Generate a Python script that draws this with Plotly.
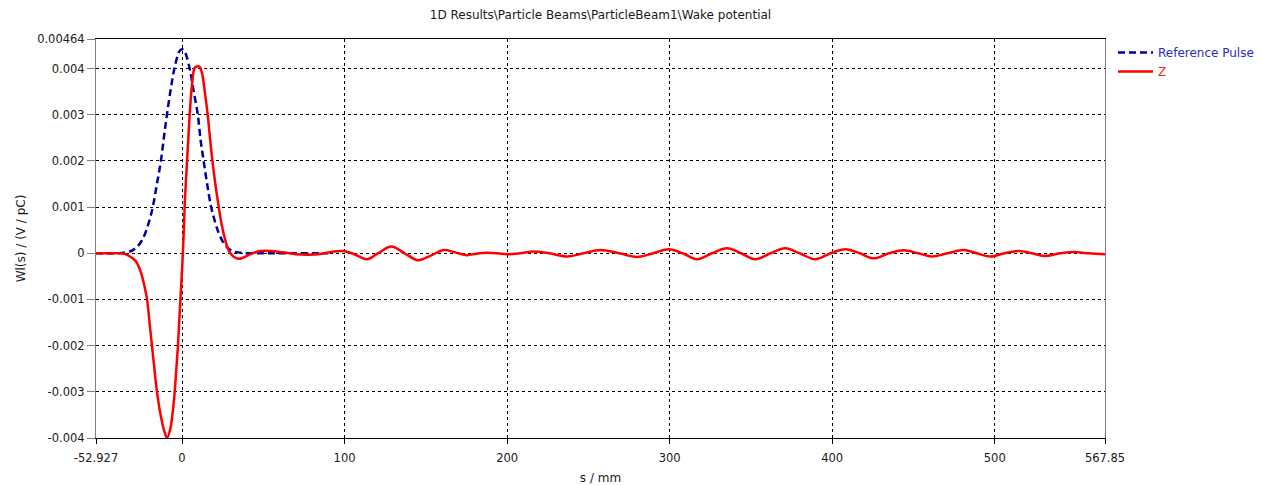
import plotly.graph_objects as go

# ---------------- data ----------------
pulse_s = [-52.927, -40, -35, -32, -30, -27.5, -25, -22.5, -20, -18, -15.5, -13, -11, -9.3, -7, -5, -3, -1.5,
           0, 1.5, 3, 5, 7, 9.7, 11.5, 13.3, 15.5, 17.9, 20, 22.5, 25, 27.5, 30, 33, 36, 40, 50, 60, 70, 80, 90]
pulse_w = [0, 0, 0.000017, 0.000042, 0.000075, 0.000143, 0.00026, 0.000445, 0.00072, 0.001, 0.00149, 0.002,
           0.00255, 0.003, 0.00354, 0.00395, 0.00424, 0.00438,
           0.00442, 0.00438, 0.00424, 0.00395, 0.00354, 0.003, 0.00243, 0.002, 0.00149, 0.001, 0.00072,
           0.000445, 0.00026, 0.00014, 0.00007, 0.00003, 0.00001, 0, 0, 0, 0, 0, 0]

z_s = [-52.927, -40, -36.5, -34.9, -32, -30, -28.7, -27, -25, -23, -21.5, -20, -18.5, -17, -15.4, -13.4,
       -11.3, -9.2, -7.2, -5.8, -4.5, -3.5, -2.5, -1.75, -1.0, -0.2, 0.5, 1.1, 1.6, 2.3, 3.1, 3.9, 4.7,
       6.0, 7.6, 8.8, 9.9, 11.0, 12.3, 14.0, 15.8, 17.2, 18.7, 20.5, 22.6, 24.5, 26.5, 28.2, 29.8, 32,
       34.8, 38, 42, 48.2, 55, 62, 70, 78, 86, 92, 99.4, 106, 113.8, 121, 128.8, 137, 145, 153, 161, 168,
       175.3, 181, 187.6, 194, 200, 208, 216.3, 226, 236.9, 247, 257.4, 269, 279.9, 290, 299.4, 308, 316.8,
       326, 335.3, 344, 352.7, 362, 371.2, 380, 389.6, 399, 408.1, 417, 425.5, 435, 444, 453, 461.4, 471,
       480.9, 489, 497.3, 506, 514.7, 523, 531.2, 540, 548.6, 558, 567.85]
z_w = [0, 0, -0.000005, -0.00002, -0.00007, -0.00012, -0.00016, -0.00026, -0.000445, -0.00073, -0.001,
       -0.0015, -0.002, -0.0025, -0.003, -0.00346, -0.0038, -0.004, -0.0038, -0.00346, -0.003, -0.0025,
       -0.002, -0.0015, -0.001, -0.0005, 0, 0.0005, 0.001, 0.0015, 0.002, 0.0025, 0.003,
       0.0036, 0.0040, 0.00404, 0.00405, 0.00403, 0.0039, 0.0035, 0.003, 0.0025, 0.002, 0.0015, 0.001,
       0.0006, 0.0003, 0.0001, 0, -0.00008,
       -0.00012, -0.00009, -0.00002, 0.00005, 0.00005, 0.00002, -0.00002, -0.00003, -0.00001, 0.00003,
       0.00005, -0.00002, -0.00013, 0.00001, 0.000145, 0.0, -0.00015, -0.00005, 0.00007, 0.00002,
       -0.00004, -0.00001, 0.00001, 0.0, -0.00002, 0.0, 0.00004, 0.0, -0.00007, 0.0, 0.00007, 0.0, -0.00008,
       0.0, 0.000086, 0.0, -0.00013, 0.0, 0.00011, 0.0, -0.00013, 0.0, 0.00011, 0.0, -0.00013, 0.0, 0.000086,
       0.0, -0.00011, 0.0, 0.000065, 0.0, -0.00007, 0.0, 0.00007, 0.0, -0.00007, 0.0, 0.00005, 0.0, -0.00006,
       0.0, 0.00003, 0.0, -0.00002]

x_ticks = [-52.927, 0, 100, 200, 300, 400, 500, 567.85]
x_tick_labels = ["-52.927", "0", "100", "200", "300", "400", "500", "567.85"]
y_ticks = [-0.004, -0.003, -0.002, -0.001, 0, 0.001, 0.002, 0.003, 0.004, 0.00464]
y_tick_labels = ["-0.004", "-0.003", "-0.002", "-0.001", "0", "0.001", "0.002", "0.003", "0.004", "0.00464"]

title_text = "1D Results\\Particle Beams\\ParticleBeam1\\Wake potential"
x_title = "s / mm"
y_title = "Wl(s) / (V / pC)"

BLUE = "#00009c"
RED = "#ff0000"
FONT = "DejaVu Sans"

fig = go.Figure()
fig.add_trace(go.Scatter(
    x=pulse_s, y=pulse_w, mode="lines",
    name='<span style="color:#2a2ac0">Reference Pulse</span>',
    line=dict(color=BLUE, width=2.5, dash="7px,4px", shape="spline", smoothing=1.0),
))
fig.add_trace(go.Scatter(
    x=z_s, y=z_w, mode="lines",
    name='<span style="color:#ff2020">Z</span>',
    line=dict(color=RED, width=2.5, shape="spline", smoothing=1.0),
))

fig.update_layout(
    width=1261, height=485,
    margin=dict(l=96, r=156, t=39, b=47, autoexpand=False),
    paper_bgcolor="white", plot_bgcolor="white",
    font=dict(family=FONT, size=11.5, color="#1a1a1a"),
    title=dict(text=title_text, x=0.5, xref="paper", xanchor="center",
               y=1 - 15 / 485, yref="container", yanchor="middle",
               font=dict(family=FONT, size=12, color="#1a1a1a")),
    showlegend=True,
    legend=dict(x=1 + 8 / 1009, xanchor="left", y=1 + 1 / 399, yanchor="top",
                bgcolor="rgba(0,0,0,0)", font=dict(family=FONT, size=12),
                tracegroupgap=0, itemwidth=35),
)

fig.update_xaxes(
    range=[-52.927, 567.85], tickmode="array", tickvals=x_ticks, ticktext=x_tick_labels,
    showline=True, linecolor="black", linewidth=1, mirror=True, automargin=False,
    ticks="outside", ticklen=5, tickcolor="black", ticklabelstandoff=4,
    showgrid=True, gridcolor="black", gridwidth=1, griddash="3px,3px",
    zeroline=False,
    title=dict(text=x_title, standoff=12, font=dict(family=FONT, size=12)),
)
fig.update_yaxes(
    range=[-0.004, 0.00464], tickmode="array", tickvals=y_ticks, ticktext=y_tick_labels,
    showline=True, linecolor="#808080", linewidth=1, mirror=True, automargin=False,
    ticks="outside", ticklen=8, tickcolor="#808080",
    showgrid=True, gridcolor="black", gridwidth=1, griddash="3px,3px",
    zeroline=False,
    title=dict(text=y_title, standoff=8, font=dict(family=FONT, size=12)),
)

fig.write_html("out.html")
